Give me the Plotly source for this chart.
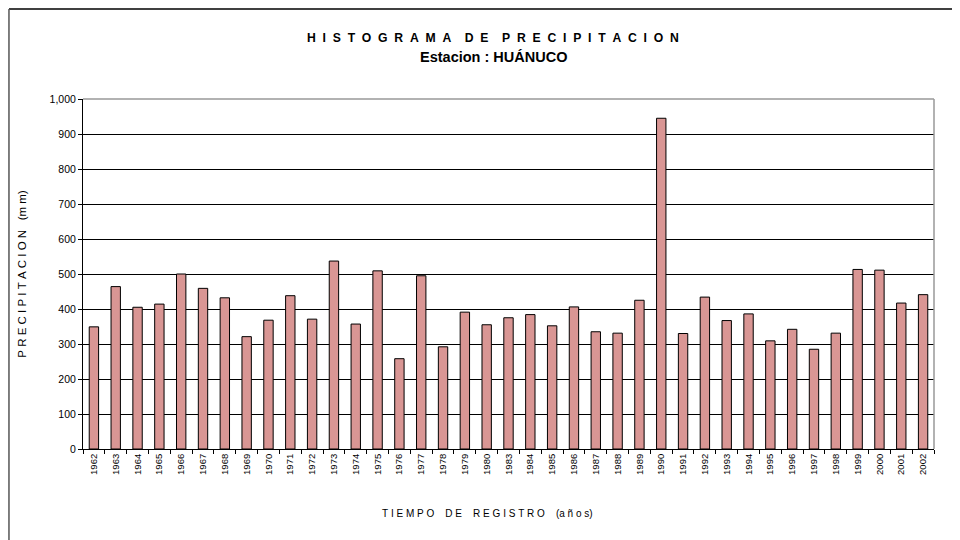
import plotly.graph_objects as go

# Precipitation record, station Huánuco
years = ['1962', '1963', '1964', '1965', '1966', '1967', '1968', '1969', '1970',
         '1971', '1972', '1973', '1974', '1975', '1976', '1977', '1978', '1979',
         '1980', '1983', '1984', '1985', '1986', '1987', '1988', '1989', '1990',
         '1991', '1992', '1993', '1994', '1995', '1996', '1997', '1998', '1999',
         '2000', '2001', '2002']
precip_mm = [349, 464, 405, 414, 500, 459, 432, 321, 368,
             438, 371, 537, 357, 509, 258, 495, 292, 391,
             355, 375, 384, 352, 406, 335, 331, 425, 945,
             330, 434, 367, 386, 309, 342, 285, 331, 513,
             511, 417, 441]
y_ticks = list(range(0, 1001, 100))

FONT = 'Arial, Liberation Sans, sans-serif'
NB = '\u00a0'


def spaced(text, gap=1, word_gap=3):
    # letter-spaced text like the Excel original
    words = text.split(' ')
    return (NB * word_gap).join((NB * gap).join(w) for w in words)


fig = go.Figure(go.Bar(
    x=years, y=precip_mm,
    marker=dict(color='#D99694', line=dict(color='black', width=1)),
))

# the page body adds an 8px offset, so the figure is sized 952x532
fig.update_layout(
    width=952, height=532,
    margin=dict(l=75, r=26, t=91, b=91),
    paper_bgcolor='white', plot_bgcolor='white',
    font=dict(family=FONT, color='black'),
    bargap=0.57,
    showlegend=False,
)

fig.update_xaxes(
    type='category', tickson='boundaries',
    ticks='outside', ticklen=4, tickcolor='black',
    tickangle=-90, tickfont=dict(size=9.5),
    showline=True, linecolor='black', linewidth=1,
    showgrid=False, automargin=False,
)
fig.update_yaxes(
    range=[0, 1000], tickvals=y_ticks, tickformat=',',
    ticks='outside', ticklen=4, tickcolor='black',
    tickfont=dict(size=10.5),
    showline=True, linecolor='black', linewidth=1,
    showgrid=True, gridcolor='black', gridwidth=1,
    zeroline=False, automargin=False,
    title=dict(text=spaced('PRECIPITACION', 1) + NB * 3 + '(m' + NB + 'm)',
               font=dict(size=11.5), standoff=20),
)

# gray top/right frame of the plot area
fig.add_shape(type='line', xref='paper', yref='paper', x0=0, x1=1, y0=1, y1=1,
              line=dict(color='#999999', width=1.5))
fig.add_shape(type='line', xref='paper', yref='paper', x0=1, x1=1, y0=0, y1=1,
              line=dict(color='#999999', width=1.5))
# outer chart border (top and left edge visible)
fig.add_shape(type='line', xref='paper', yref='paper', x0=-0.087, x1=1.1, y0=1.257, y1=1.257,
              line=dict(color='black', width=1.5))
fig.add_shape(type='line', xref='paper', yref='paper', x0=-0.087, x1=-0.087, y0=1.257, y1=-0.3,
              line=dict(color='#555555', width=1.5))

fig.add_annotation(text='<b>' + spaced('HISTOGRAMA DE PRECIPITACION', 2, 4) + '</b>',
                   xref='paper', yref='paper', x=0.482, y=1.174, showarrow=False,
                   font=dict(size=12.2), yanchor='middle')
fig.add_annotation(text='<b>Estacion : HUÁNUCO</b>',
                   xref='paper', yref='paper', x=0.482, y=1.12, showarrow=False,
                   font=dict(size=14.5), yanchor='middle')
# x axis title, placed left of centre as in the original
fig.add_annotation(text=spaced('TIEMPO DE REGISTRO', 1, 4) + NB * 4 + '(a' + NB + 'ñ' + NB + 'o' + NB + 's)',
                   xref='paper', yref='paper', x=0.475, y=-0.183, showarrow=False,
                   font=dict(size=10), yanchor='middle')

fig.write_html('out.html')
